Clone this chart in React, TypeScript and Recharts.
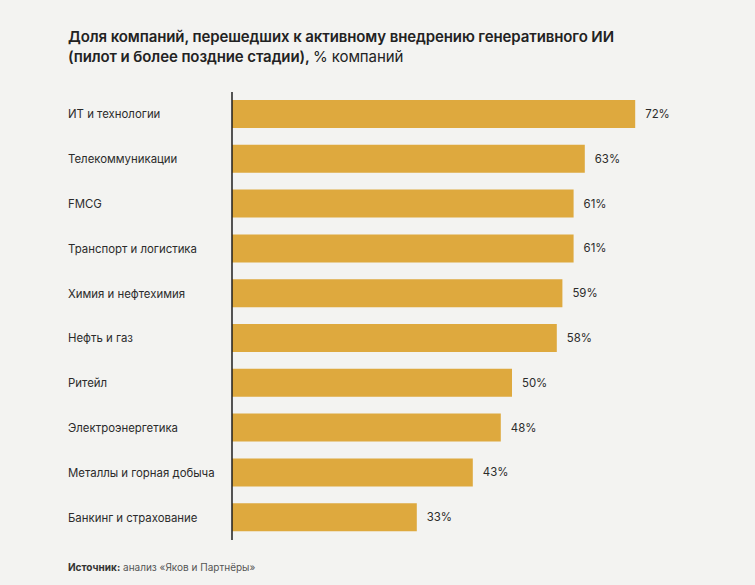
import React from 'react';
import { BarChart, Bar, XAxis, YAxis, LabelList } from 'recharts';

const categories = [
  'ИТ и технологии',
  'Телекоммуникации',
  'FMCG',
  'Транспорт и логистика',
  'Химия и нефтехимия',
  'Нефть и газ',
  'Ритейл',
  'Электроэнергетика',
  'Металлы и горная добыча',
  'Банкинг и страхование',
];
const shares = [72, 63, 61, 61, 59, 58, 50, 48, 43, 33];

const data = categories.map((name, i) => ({ name, value: shares[i] }));

const FONT = 'Inter, "Noto Sans", sans-serif';

const CategoryTick = (props: any) => {
  const { y, payload } = props;
  return (
    <text x={68} y={y} dy={4} textAnchor="start" fontSize={11.4} fill="#2b2b2b" fontFamily={FONT}>
      {payload.value}
    </text>
  );
};

export default function App() {
  return (
    <div
      style={{
        position: 'fixed',
        left: 0,
        top: 0,
        width: 755,
        height: 585,
        background: '#f3f3f1',
        fontFamily: FONT,
        color: '#222',
      }}
    >
      <div
        style={{
          position: 'absolute',
          left: 68,
          top: 27,
          fontSize: 15,
          lineHeight: '20px',
          fontWeight: 600,
          letterSpacing: -0.1,
        }}
      >
        Доля компаний, перешедших к активному внедрению генеративного ИИ
        <br />
        (пилот и более поздние стадии), <span style={{ fontWeight: 400 }}>% компаний</span>
      </div>

      <div style={{ position: 'absolute', left: 0, top: 0 }}>
        <BarChart
          width={755}
          height={585}
          layout="vertical"
          data={data}
          margin={{ top: 92, right: 75, bottom: 45, left: 0 }}
        >
          <XAxis type="number" domain={[0, 80]} hide />
          <YAxis
            type="category"
            dataKey="name"
            width={232}
            axisLine={{ stroke: '#1e1e1e', strokeWidth: 1.5 }}
            tickLine={false}
            tick={<CategoryTick />}
            interval={0}
          />
          <Bar dataKey="value" fill="#dea93e" barSize={28} isAnimationActive={false}>
            <LabelList
              dataKey="value"
              position="right"
              offset={10}
              formatter={(v: any) => `${v}%`}
              style={{ fontSize: 11.4, fill: '#2b2b2b', fontFamily: FONT }}
            />
          </Bar>
        </BarChart>
      </div>

      <div
        style={{
          position: 'absolute',
          left: 68,
          top: 561,
          fontSize: 10,
          color: '#555',
        }}
      >
        <b style={{ color: '#333', fontWeight: 700 }}>Источник:</b> анализ «Яков и Партнёры»
      </div>
    </div>
  );
}
